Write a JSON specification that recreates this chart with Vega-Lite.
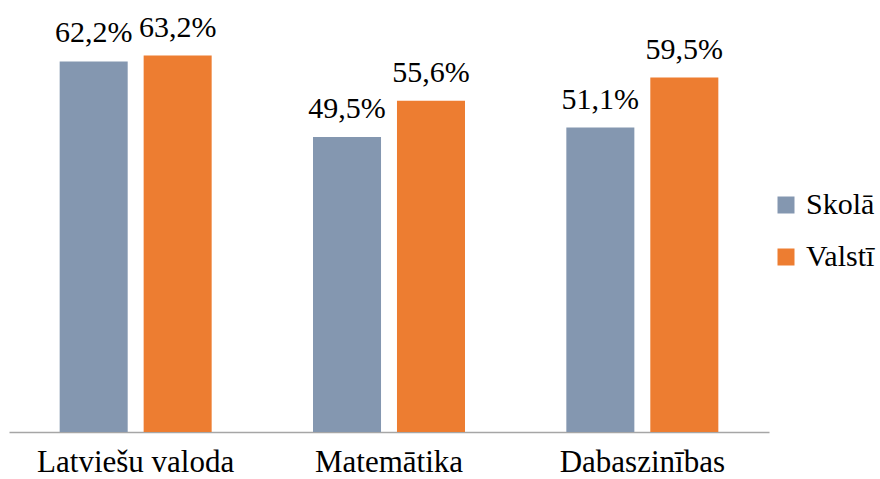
{
  "$schema": "https://vega.github.io/schema/vega-lite/v6.json",
  "autosize": {"type": "none"},
  "width": 760,
  "height": 417,
  "padding": {"left": 9, "top": 15, "right": 111, "bottom": 47},
  "background": "white",
  "config": {
    "view": {"stroke": null},
    "font": "Liberation Serif",
    "locale": {"number": {"decimal": ",", "thousands": " ", "grouping": [3], "currency": ["", " €"]}}
  },
  "data": {
    "values": [
      {"subject": "Latviešu valoda", "series": "Skolā", "value": 0.622},
      {"subject": "Latviešu valoda", "series": "Valstī", "value": 0.632},
      {"subject": "Matemātika", "series": "Skolā", "value": 0.495},
      {"subject": "Matemātika", "series": "Valstī", "value": 0.556},
      {"subject": "Dabaszinības", "series": "Skolā", "value": 0.511},
      {"subject": "Dabaszinības", "series": "Valstī", "value": 0.595}
    ]
  },
  "encoding": {
    "x": {
      "field": "subject",
      "type": "nominal",
      "sort": null,
      "scale": {"paddingInner": 0.4, "paddingOuter": 0.2},
      "axis": {
        "title": null,
        "labelAngle": 0,
        "ticks": false,
        "tickSize": 0,
        "labelPadding": 39,
        "labelBaseline": "alphabetic",
        "labelLimit": 0,
        "labelFont": "Liberation Serif",
        "labelFontSize": 31,
        "labelColor": "#000000",
        "domainColor": "#A6A6A6",
        "domainWidth": 1.5,
        "grid": false
      }
    },
    "xOffset": {
      "field": "series",
      "type": "nominal",
      "scale": {"paddingInner": 0.19, "paddingOuter": 0}
    },
    "y": {
      "field": "value",
      "type": "quantitative",
      "scale": {"domain": [0, 0.7]},
      "axis": null
    }
  },
  "layer": [
    {
      "mark": {"type": "bar"},
      "encoding": {
        "color": {
          "field": "series",
          "type": "nominal",
          "scale": {"domain": ["Skolā", "Valstī"], "range": ["#8497B0", "#ED7D31"]},
          "legend": {
            "title": null,
            "orient": "none",
            "legendX": 762,
            "legendY": 175,
            "padding": 0,
            "symbolType": "square",
            "symbolSize": 289,
            "symbolStrokeWidth": 0,
            "labelFont": "Liberation Serif",
            "labelFontSize": 30,
            "labelLimit": 0,
            "labelColor": "#000000",
            "labelOffset": 5,
            "rowPadding": 22
          }
        }
      }
    },
    {
      "mark": {"type": "text", "baseline": "alphabetic", "dy": -19, "font": "Liberation Serif", "fontSize": 30, "color": "#000000"},
      "encoding": {
        "text": {"field": "value", "type": "quantitative", "format": ".1%"}
      }
    }
  ]
}
